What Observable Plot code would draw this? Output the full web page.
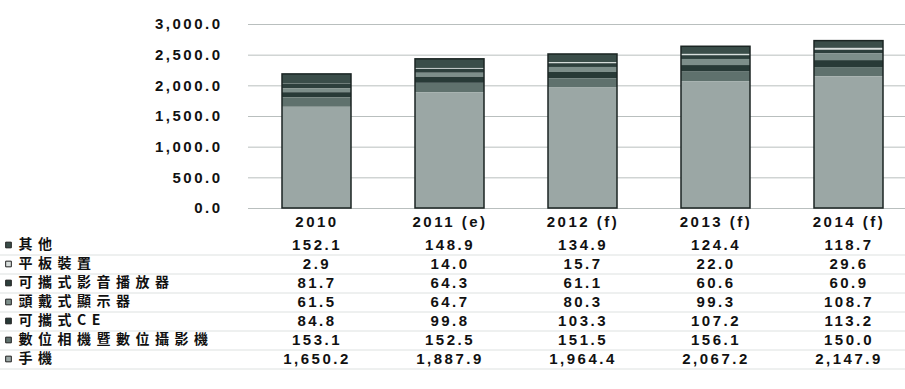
<!DOCTYPE html>
<html><head><meta charset="utf-8">
<script src="https://cdn.jsdelivr.net/npm/d3@7"></script>
<script src="https://cdn.jsdelivr.net/npm/@observablehq/plot@0.6"></script>
<style>
body{margin:0;background:#fff}
#c svg{display:block;overflow:visible}
</style>
</head><body><div id="c"></div>
<script>
const years = ["2010", "2011 (e)", "2012 (f)", "2013 (f)", "2014 (f)"];
// table order, top -> bottom
const seriesNames = ["其他", "平板裝置", "可攜式影音播放器", "頭戴式顯示器", "可攜式CE", "數位相機暨數位攝影機", "手機"];
const others     = [152.1, 148.9, 134.9, 124.4, 118.7];
const tablets    = [2.9, 14.0, 15.7, 22.0, 29.6];
const mediaPlayers = [81.7, 64.3, 61.1, 60.6, 60.9];
const headMounted  = [61.5, 64.7, 80.3, 99.3, 108.7];
const portableCE   = [84.8, 99.8, 103.3, 107.2, 113.2];
const cameras    = [153.1, 152.5, 151.5, 156.1, 150.0];
const phones     = [1650.2, 1887.9, 1964.4, 2067.2, 2147.9];
const yTicks = [0, 500, 1000, 1500, 2000, 2500, 3000];
const seriesColors = ["#3a4d49", "#d9dfdd", "#2d3f3c", "#7d8e8a", "#283a37", "#5f716d", "#9ba7a5"];

const valuesBySeries = [others, tablets, mediaPlayers, headMounted, portableCE, cameras, phones];
const rows = [];
seriesNames.forEach((s, i) => years.forEach((y, j) => rows.push({series: s, year: y, value: valuesBySeries[i][j]})));
const stackOrder = seriesNames.slice().reverse();
const totals = years.map((y, j) => ({year: y, total: d3.sum(valuesBySeries, v => v[j])}));

const fmt = d3.format(",.1f");
const xRange = [250, 916];
const numFont = "Liberation Sans, Arial, sans-serif";

const chart = Plot.plot({
  width: 905, height: 230,
  marginLeft: 248, marginRight: 0, marginTop: 24, marginBottom: 22,
  style: {fontFamily: numFont, fontSize: "15px", fontWeight: "bold", color: "#111", background: "#fff"},
  x: {type: "band", domain: years, range: xRange, paddingInner: 0.48, paddingOuter: 0.24, tickSize: 0, tickPadding: 8, label: null},
  y: {domain: [0, 3000], ticks: yTicks, tickFormat: fmt, tickSize: 0, tickPadding: 26, label: null},
  color: {domain: seriesNames, range: seriesColors},
  marks: [
    Plot.ruleY(yTicks, {stroke: "#b9bfbe", strokeWidth: 1}),
    Plot.barY(rows, {x: "year", y: "value", fill: "series", order: stackOrder}),
    Plot.barY(totals, {x: "year", y: "total", fill: "none", stroke: "#1b2523", strokeWidth: 1.5})
  ]
});

const table = Plot.plot({
  width: 905, height: 159,
  marginLeft: 0, marginRight: 0, marginTop: 0, marginBottom: 0,
  style: {fontFamily: numFont, fontSize: "15px", fontWeight: "bold", color: "#111", background: "#fff"},
  x: {type: "band", domain: years, range: xRange, paddingInner: 0.48, paddingOuter: 0.24, axis: null},
  y: {type: "band", domain: seriesNames, range: [2, 140], padding: 0, axis: null},
  color: {domain: seriesNames, range: seriesColors},
  marks: [
    Plot.ruleY(seriesNames, {y: d => d, dy: 10, stroke: "#dde1e0"}),
    Plot.dot(seriesNames, {y: d => d, frameAnchor: "left", dx: 8, symbol: "square", r: 3.2, fill: d => d, stroke: "#222", strokeWidth: 1}),
    Plot.text(seriesNames, {y: d => d, text: d => d, frameAnchor: "left", dx: 18, textAnchor: "start",
      fontFamily: "Noto Sans CJK TC, sans-serif", fontWeight: "bold", fontSize: 14, fill: "#111"}),
    Plot.text(rows, {x: "year", y: "series", text: d => fmt(d.value), fill: "#111"})
  ]
});

// widen letter spacing like the reference
[chart, table].forEach(svg => svg.querySelectorAll("text").forEach(t => {
  t.setAttribute("letter-spacing", /[\u4e00-\u9fff]/.test(t.textContent) ? "5.5px" : "2.5px");
}));

document.getElementById("c").append(chart, table);
</script>
</body></html>
